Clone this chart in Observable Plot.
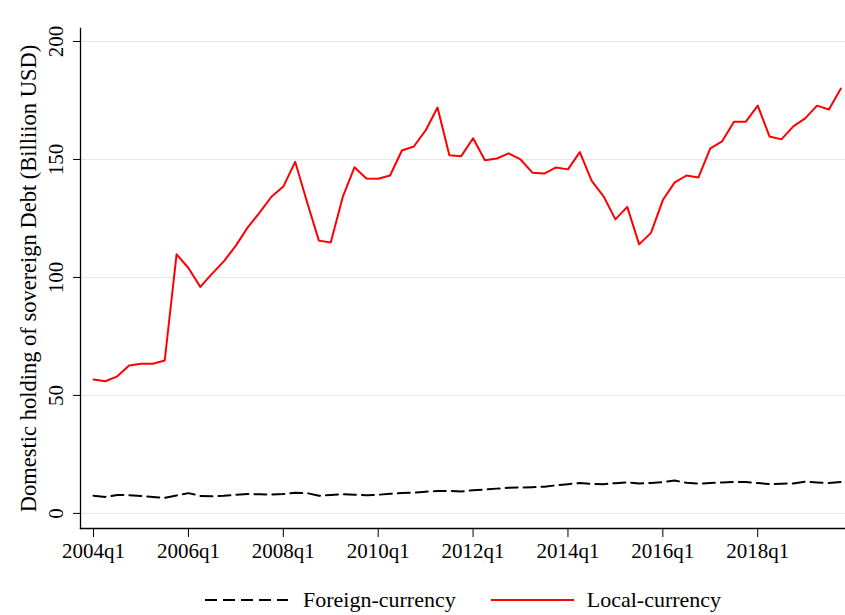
<!DOCTYPE html>
<html>
<head>
<meta charset="utf-8">
<script src="https://cdn.jsdelivr.net/npm/d3@7"></script>
<script src="https://cdn.jsdelivr.net/npm/@observablehq/plot@0.6"></script>
<style>
  body { margin: 0; background: #fff; font-family: "Liberation Serif", "Times New Roman", serif; }
  #chart { position: relative; width: 845px; height: 615px; overflow: hidden; }
  #legend { position: absolute; left: 205px; top: 585px; display: flex; align-items: center; font-size: 22px; color: #000; line-height: 30px; }
  #legend svg { display: block; }
</style>
</head>
<body>
<div id="chart"><div id="plot"></div><div id="legend"></div></div>
<script>
// Quarter categories 2004q1 .. 2019q4
const years = [2004,2005,2006,2007,2008,2009,2010,2011,2012,2013,2014,2015,2016,2017,2018,2019];
const quarters = years.flatMap(y => [`${y}q1`, `${y}q2`, `${y}q3`, `${y}q4`]);

// Foreign-currency holdings (Billion USD)
const foreignCurrency = [
  7.5, 7.0, 7.8, 7.7, 7.4, 7.0, 6.6, 7.6, 8.6, 7.4, 7.3, 7.5, 7.9, 8.2, 8.1, 8.0,
  8.2, 8.8, 8.6, 7.5, 7.8, 8.1, 7.9, 7.7, 7.9, 8.3, 8.6, 8.8, 9.2, 9.5, 9.5, 9.3,
  9.8, 10.1, 10.5, 10.9, 11.0, 11.1, 11.3, 11.9, 12.4, 12.9, 12.5, 12.4, 12.8, 13.2, 12.7, 12.9,
  13.3, 13.9, 13.0, 12.6, 12.9, 13.1, 13.3, 13.3, 12.9, 12.4, 12.6, 12.7, 13.4, 13.1, 12.9, 13.3
];

// Local-currency holdings (Billion USD)
const localCurrency = [
  56.7, 56.0, 58.1, 62.7, 63.4, 63.4, 64.8, 109.8, 104.0, 96.0, 101.6, 106.9, 113.5, 121.2, 127.5, 134.2,
  138.5, 149.0, 132.0, 115.6, 114.8, 133.9, 146.7, 141.9, 141.8, 143.2, 153.8, 155.5, 162.3, 172.0, 151.8, 151.4,
  159.0, 149.7, 150.4, 152.6, 150.0, 144.4, 144.0, 146.6, 145.8, 153.1, 140.9, 134.4, 124.6, 129.9, 114.0, 118.9,
  132.8, 140.3, 143.2, 142.4, 154.7, 157.7, 166.0, 166.0, 172.8, 159.7, 158.5, 164.0, 167.4, 172.8, 171.2, 180.0
];

const tickQuarters = ["2004q1","2006q1","2008q1","2010q1","2012q1","2014q1","2016q1","2018q1"];
const yTicks = [0, 50, 100, 150, 200];
const seriesNames = ["Foreign-currency", "Local-currency"];
const seriesColors = ["#000000", "#ff0000"];
const seriesDash = ["12,6", null];
const yLabel = "Domestic holding of sovereign Debt (Billiion USD)";

const rows = [];
quarters.forEach((q, i) => {
  rows.push({i, quarter: q, series: seriesNames[0], value: foreignCurrency[i]});
  rows.push({i, quarter: q, series: seriesNames[1], value: localCurrency[i]});
});

const xDomain = [-1.1, quarters.length - 1 + 0.4];
const yDomain = [-6.4, 205.5];

const plot = Plot.plot({
  width: 845,
  height: 575,
  marginLeft: 80,
  marginRight: 0,
  marginTop: 28,
  marginBottom: 47,
  style: { fontFamily: "'Liberation Serif', 'Times New Roman', serif", fontSize: "21px", color: "#000", background: "#fff" },
  x: { domain: xDomain, axis: null },
  y: { domain: yDomain, axis: null },
  marks: [
    Plot.gridY(yTicks, { stroke: "#e6e6e6", strokeOpacity: 1, strokeWidth: 1 }),
    Plot.axisY(yTicks, {
      anchor: "left", tickSize: 7, tickPadding: 17, tickRotate: -90,
      textAnchor: "middle", lineAnchor: "middle",
      fontSize: 21, stroke: "#000", color: "#000", label: null
    }),
    Plot.axisY({
      anchor: "left", ticks: [], tickSize: 0,
      label: yLabel, labelAnchor: "center", labelArrow: "none", labelOffset: 60,
      fontSize: 22.5
    }),
    Plot.axisX(tickQuarters.map(q => quarters.indexOf(q)), {
      anchor: "bottom", tickSize: 9, tickPadding: 6,
      tickFormat: i => quarters[i], label: null, fontSize: 21
    }),
    Plot.frame({ anchor: "left", stroke: "#000", strokeWidth: 1.3 }),
    Plot.frame({ anchor: "bottom", stroke: "#000", strokeWidth: 1.3 }),
    Plot.line(rows.filter(d => d.series === seriesNames[0]), {
      x: "i", y: "value", stroke: seriesColors[0], strokeWidth: 2, strokeDasharray: seriesDash[0]
    }),
    Plot.line(rows.filter(d => d.series === seriesNames[1]), {
      x: "i", y: "value", stroke: seriesColors[1], strokeWidth: 2
    })
  ]
});
document.getElementById("plot").appendChild(plot);

// Legend
const legend = document.getElementById("legend");
const gaps = [[15, 35], [13, 0]];
seriesNames.forEach((name, k) => {
  const ns = "http://www.w3.org/2000/svg";
  const svg = document.createElementNS(ns, "svg");
  svg.setAttribute("width", 83); svg.setAttribute("height", 20);
  const ln = document.createElementNS(ns, "line");
  ln.setAttribute("x1", 0); ln.setAttribute("x2", 83);
  ln.setAttribute("y1", 10); ln.setAttribute("y2", 10);
  ln.setAttribute("stroke", seriesColors[k]);
  ln.setAttribute("stroke-width", 2);
  if (seriesDash[k]) ln.setAttribute("stroke-dasharray", seriesDash[k]);
  svg.appendChild(ln);
  svg.style.marginRight = gaps[k][0] + "px";
  legend.appendChild(svg);
  const span = document.createElement("span");
  span.textContent = name;
  span.style.marginRight = gaps[k][1] + "px";
  legend.appendChild(span);
});
</script>
</body>
</html>
